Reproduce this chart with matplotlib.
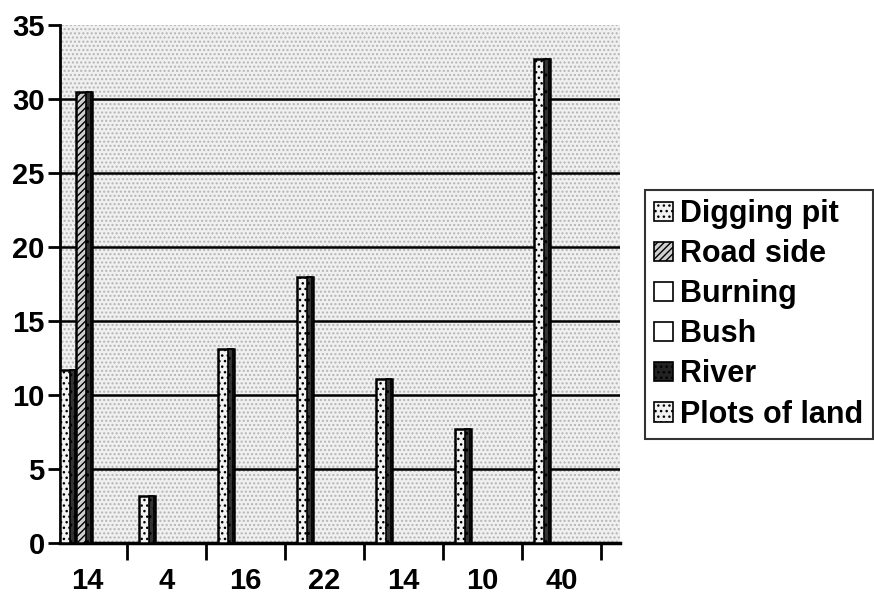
import matplotlib
matplotlib.use("Agg")
import matplotlib.pyplot as plt
from matplotlib.patches import Rectangle, Patch
import numpy as np

plt.rcParams['font.family'] = ['Liberation Sans', 'DejaVu Sans']
plt.rcParams['hatch.linewidth'] = 1.0

categories = ["14", "4", "16", "22", "14", "10", "40"]
series_names = ["Digging pit", "Road side", "Burning", "Bush", "River", "Plots of land"]
digging_pit = [11.7, 3.2, 13.1, 18.0, 11.1, 7.7, 32.7]
road_side = [30.5, 0, 0, 0, 0, 0, 0]
burning = [0, 0, 0, 0, 0, 0, 0]
bush = [0, 0, 0, 0, 0, 0, 0]
river = [0, 0, 0, 0, 0, 0, 0]
plots_of_land = [0, 0, 0, 0, 0, 0, 0]
yticks = [0, 5, 10, 15, 20, 25, 30, 35]

all_series = [digging_pit, road_side, burning, bush, river, plots_of_land]
face = ['#f2f2f2', '#cfcfcf', 'white', 'white', '#222222', '#f2f2f2']
hatches = ['...', '/////', None, None, '...', '...']

fig = plt.figure(figsize=(8.74, 5.96), dpi=100)
ax = fig.add_axes([60/874, 53/596, 560/874, 518/596])

# stippled background
ax.add_patch(Rectangle((0, 0), 1, 1, transform=ax.transAxes, facecolor='#f0f0f0',
                       hatch='....', edgecolor='#b4b4b4', lw=0, zorder=0))

x = np.arange(len(categories))
width = 0.2
for s, vals in enumerate(all_series):
    vals = np.array(vals, dtype=float)
    mask = vals > 0
    if not mask.any():
        continue
    pos = x[mask] - 0.25 + 0.2 * s
    ax.bar(pos, vals[mask], width=width, facecolor=face[s], hatch=hatches[s],
           edgecolor='black', linewidth=1.8, zorder=3)
    # dark side face
    ax.bar(pos + width * 0.32, vals[mask], width=width * 0.32, facecolor='#333333',
           hatch='..', edgecolor='black', linewidth=1.2, zorder=4)

ax.set_xlim(-0.35, 6.74)
ax.set_ylim(0, 35)
ax.set_yticks(yticks)
ax.set_yticklabels([str(t) for t in yticks], fontsize=21, fontweight='bold')
ax.set_xticks(x + 0.5)
ax.set_xticklabels([])
ax.tick_params(axis='x', length=12, width=2, direction='out', color='black')
ax.tick_params(axis='y', length=9, width=2, direction='out', pad=2, color='black')
for i, c in enumerate(categories):
    ax.text(i, -1.6, c, ha='center', va='top', fontsize=21, fontweight='bold',
            transform=ax.transData)

ax.yaxis.grid(True, color='black', linewidth=1.8)
ax.set_axisbelow(True)
ax.get_ygridlines()[-1].set_visible(False)
for sp in ['top', 'right']:
    ax.spines[sp].set_visible(False)
ax.spines['left'].set_linewidth(2)
ax.spines['bottom'].set_linewidth(2.5)

handles = [Patch(facecolor=face[i], hatch=hatches[i], edgecolor='black', linewidth=1.2)
           for i in range(len(series_names))]
leg = fig.legend(handles, series_names, loc='upper left',
                 bbox_to_anchor=(645/874, 1 - 190/596), frameon=True, fancybox=False,
                 prop={'size': 22, 'weight': 'bold'}, handlelength=0.6, handleheight=0.6,
                 handletextpad=0.25, labelspacing=0.33, borderpad=0.3, borderaxespad=0)
leg.get_frame().set_edgecolor('black')
leg.get_frame().set_linewidth(1.5)

fig.savefig('out.png', dpi=100)
